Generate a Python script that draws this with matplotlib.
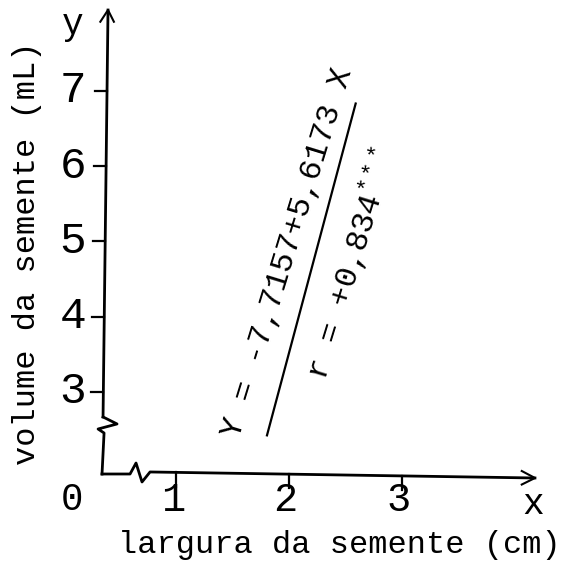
import numpy as np
import matplotlib
matplotlib.use('Agg')
from matplotlib import pyplot as plt

plt.rcParams['font.family'] = ['Liberation Mono', 'DejaVu Sans Mono']
plt.rcParams['mathtext.fontset'] = 'custom'
plt.rcParams['mathtext.rm'] = 'Liberation Mono'
plt.rcParams['mathtext.it'] = 'Liberation Mono'

# regression (volume vs largura)
intercept = -7.7157
slope = 5.6173
r_value = '+0,834'
x_fit = [1.805, 2.59]

x_ticks = [1, 2, 3]
y_ticks = [3, 4, 5, 6, 7]
x_label = 'largura da semente (cm)'
y_label = 'volume da semente (mL)'

fig = plt.figure(figsize=(5.70, 5.71), dpi=100)
ax = fig.add_axes([0, 0, 1, 1])
ax.set_xlim(-0.558, 4.487)
ax.set_ylim(0.621, 8.209)
ax.axis('off')

lw = 2.0
k = 'black'

# y axis (upper part, broken, lower part)
ax.plot([0.398, 0.354], [8.076, 2.668], color=k, lw=lw)
ax.plot([0.354, 0.478, 0.310, 0.363, 0.345],
        [2.668, 2.575, 2.508, 2.455, 1.910], color=k, lw=lw)
# arrow at top
ax.plot([0.33, 0.398, 0.45], [7.92, 8.076, 7.92], color=k, lw=1.5)

# x axis with break
ax.plot([0.345, 0.593, 0.646, 0.699, 0.770, 4.177],
        [1.910, 1.910, 2.056, 1.804, 1.937, 1.857], color=k, lw=lw)
ax.plot([4.06, 4.177, 4.06], [1.95, 1.857, 1.77], color=k, lw=1.5)

# ticks
for yt in y_ticks:
    xa = np.interp(yt, [2.668, 8.076], [0.354, 0.398])
    ax.plot([xa - 0.105, xa], [yt, yt], color=k, lw=1.6)
    ax.text(0.085, yt, str(yt), fontsize=32, ha='center', va='center')
for xt in x_ticks:
    ya = np.interp(xt, [0.770, 4.177], [1.937, 1.857])
    ax.plot([xt, xt], [ya, ya - 0.19], color=k, lw=1.6)
    ax.text(xt - 0.03, 1.56, str(xt), fontsize=29, ha='center', va='center')

ax.text(0.080, 1.565, '0', fontsize=27, ha='center', va='center')
ax.text(4.159, 1.50, 'x', fontsize=26, ha='center', va='center')
ax.text(0.088, 7.88, 'y', fontsize=26, ha='center', va='center')

# fitted line
xf = np.array(x_fit)
ax.plot(xf, intercept + slope * xf, color=k, lw=1.6)

ax.text(1.991, 4.847, 'Y = -7,7157+5,6173 X', fontsize=23, rotation=73,
        ha='center', va='center')
ax.text(2.55, 4.70, 'r = ' + r_value + '$^{***}$', fontsize=23, rotation=73,
        ha='center', va='center')

fig.text(0.596, 0.046, x_label, fontsize=23, ha='center', va='center')
fig.text(0.047, 0.557, y_label, fontsize=23, ha='center', va='center',
         rotation=90)

fig.savefig('out.png', dpi=100)
